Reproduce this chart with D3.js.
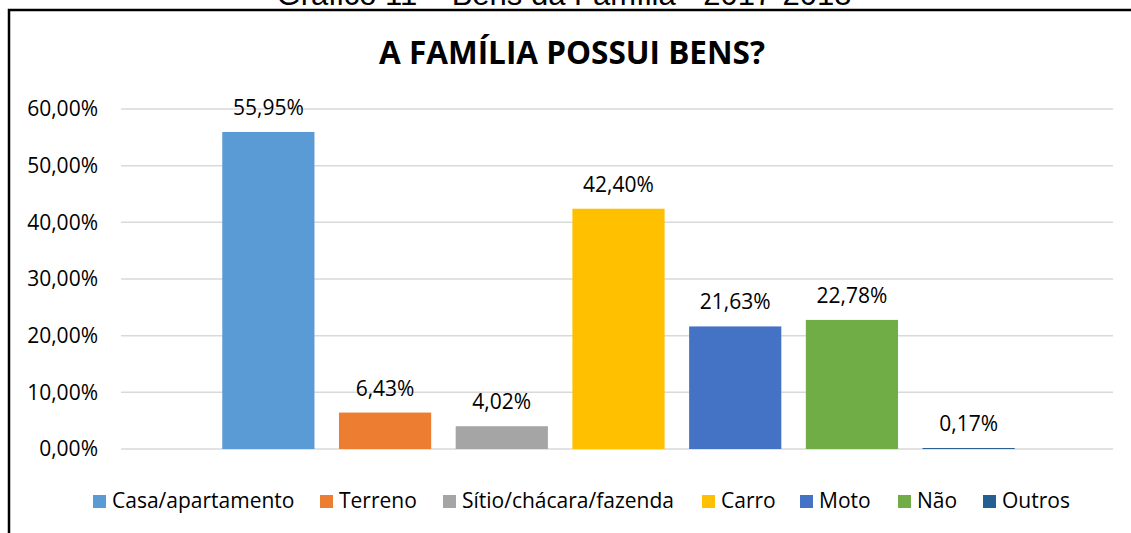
<!DOCTYPE html>
<html>
<head>
<meta charset="utf-8">
<script src="https://cdn.jsdelivr.net/npm/d3@7"></script>
<style>
  html, body { margin: 0; padding: 0; background: #fff; }
  svg { display: block; }
</style>
</head>
<body>
<svg id="chart" width="1131" height="533"></svg>
<script>
// ---- data ----
const categories = ["Casa/apartamento", "Terreno", "Sítio/chácara/fazenda", "Carro", "Moto", "Não", "Outros"];
const values = [55.95, 6.43, 4.02, 42.40, 21.63, 22.78, 0.17];
const colors = ["#5B9BD5", "#ED7D31", "#A5A5A5", "#FFC000", "#4472C4", "#70AD47", "#255E91"];
const yTicks = [0, 10, 20, 30, 40, 50, 60];
const chartTitle = "A FAMÍLIA POSSUI BENS?";
const pageCaption = "Gráfico 11 – Bens da Família - 2017-2018";

const svg = d3.select("#chart");
const W = 1131, H = 533;
const fmt = v => d3.format(".2f")(v).replace(".", ",") + "%";

// caption cut at top (as in the reference)
svg.append("text")
  .attr("x", 564).attr("y", 5)
  .attr("text-anchor", "middle")
  .attr("font-family", "Liberation Sans, Arial, sans-serif")
  .attr("font-size", 31)
  .attr("fill", "#000")
  .text(pageCaption);

// frame (top and left)
svg.append("path")
  .attr("d", `M9,${H} L9,10 L${W},10`)
  .attr("fill", "none").attr("stroke", "#000").attr("stroke-width", 2.5);

// title
svg.append("text")
  .attr("x", 572).attr("y", 64)
  .attr("text-anchor", "middle")
  .attr("font-family", "Open Sans, sans-serif")
  .attr("font-weight", "bold")
  .attr("font-size", 31.5)
  .attr("fill", "#000")
  .text(chartTitle);

const plotLeft = 121, plotRight = 1113;
const y = d3.scaleLinear().domain([0, 60]).range([449, 109]);
const x = d3.scaleBand().domain(categories)
  .range([plotLeft + 89, plotRight - 86])
  .paddingInner(0.21).paddingOuter(0.105);

// gridlines
svg.append("g").selectAll("line").data(yTicks).join("line")
  .attr("x1", plotLeft).attr("x2", plotRight)
  .attr("y1", d => y(d)).attr("y2", d => y(d))
  .attr("stroke", "#d9d9d9").attr("stroke-width", 1.5);

// y axis labels
const yAxis = d3.axisLeft(y).tickValues(yTicks).tickSize(0).tickPadding(0).tickFormat(fmt);
const gy = svg.append("g").attr("transform", "translate(98,0)").call(yAxis);
gy.select(".domain").remove();
gy.selectAll("text")
  .attr("font-family", "Open Sans, sans-serif")
  .attr("font-size", 21)
  .attr("fill", "#000");

// bars
svg.append("g").selectAll("rect").data(categories).join("rect")
  .attr("x", d => x(d))
  .attr("width", x.bandwidth())
  .attr("y", (d, i) => y(values[i]))
  .attr("height", (d, i) => y(0) - y(values[i]))
  .attr("fill", (d, i) => colors[i]);

// data labels
svg.append("g").selectAll("text").data(categories).join("text")
  .attr("x", d => x(d) + x.bandwidth() / 2)
  .attr("y", (d, i) => y(values[i]) - 17)
  .attr("text-anchor", "middle")
  .attr("font-family", "Open Sans, sans-serif")
  .attr("font-size", 21)
  .attr("fill", "#000")
  .text((d, i) => fmt(values[i]));

// legend
const legendX = [93, 320, 443, 702, 800, 898, 983];
const lg = svg.append("g");
categories.forEach((c, i) => {
  const g = lg.append("g").attr("transform", `translate(${legendX[i]},0)`);
  g.append("rect").attr("x", 0).attr("y", 495).attr("width", 13).attr("height", 13).attr("fill", colors[i]);
  g.append("text").attr("x", 19).attr("y", 508)
    .attr("font-family", "Open Sans, sans-serif")
    .attr("font-size", 21)
    .attr("fill", "#000")
    .text(c);
});
</script>
</body>
</html>
